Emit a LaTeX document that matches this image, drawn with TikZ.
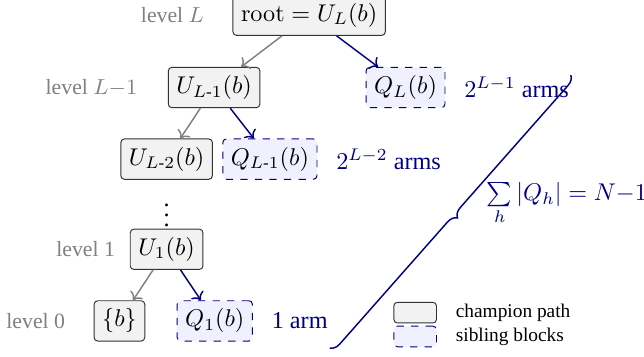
\documentclass[tikz,border=0pt]{standalone}
\usepackage{amsmath,amssymb}
\usepackage[no-math]{fontspec}
\setmainfont{Liberation Serif}
\usepackage{tikz}
\usetikzlibrary{arrows.meta,positioning,calc,decorations.pathreplacing}

\colorlet{navy}{blue!50!black}

\begin{document}
\begin{tikzpicture}[
    champ/.style={draw=black!80, fill=gray!10, rounded corners=1.5pt},
    sib/.style={draw=navy, dashed, fill=blue!6, rounded corners=1.5pt},
    champedge/.style={->, semithick, gray},
    sibedge/.style={->, semithick, navy},
    lvl/.style={font=\small, text=gray},
    cnt/.style={text=navy},
  ]
  \useasboundingbox (0,0) rectangle (9.354,5.171);

  % Champion path and sibling blocks
  \node[champ] (root) at (4.49,4.95) {$\mathrm{root} = U_L(b)$};
  \node[champ] (uL1) at (3.11,3.90) {$U_{L\text{-}1}(b)$};
  \node[sib] (qL) at (5.89,3.90) {$Q_L(b)$};
  \node[champ] (uL2) at (2.42,2.86) {$U_{L\text{-}2}(b)$};
  \node[sib] (qL1) at (3.92,2.86) {$Q_{L\text{-}1}(b)$};
  \node[inner sep=0pt] (vd) at (2.42,2.15) {$\vdots$};
  \node[champ] (u1) at (2.42,1.55) {$U_1(b)$};
  \node[champ] (leaf) at (1.735,0.51) {$\{b\}$};
  \node[sib] (q1) at (3.12,0.51) {$Q_1(b)$};

  % Levels
  \node[lvl, left=2.9mm of root] (lvlL) {level $L$};
  \node[lvl, left=3.2mm of uL1] (lvlL1) {level $L{-}1$};
  \node[lvl, left=0.9mm of u1] (lvl1) {level 1};
  \node[lvl, left=2.9mm of leaf] (lvl0) {level 0};

  % Arm counts
  \node[cnt, right=1.5mm of qL] (nL) {$2^{L-1}$ arms};
  \node[cnt, right=1.5mm of qL1] (nL1) {$2^{L-2}$ arms};
  \node[cnt, right=1.5mm of q1] (n1) {1 arm};

  % Edges
  \draw[champedge] (root) -- (uL1);
  \draw[sibedge] (root) -- (qL);
  \draw[champedge] (uL1) -- (uL2);
  \draw[sibedge] (uL1) -- (qL1);
  \draw[champedge] (u1) -- (leaf);
  \draw[sibedge] (u1) -- (q1);

  % Total
  \coordinate (btop) at (8.29,4.08);
  \coordinate (bbot) at (4.79,0.116);
  \draw[navy, semithick, decorate, decoration={brace, amplitude=4pt}] (btop) -- (bbot);
  \node[cnt, anchor=west, inner sep=1pt] (total) at (7.03,2.215) {$\sum\limits_h |Q_h| = N{-}1$};

  % Legend
  \node[champ, minimum width=0.62cm, minimum height=0.3cm] (keyc) at (6.03,0.63) {};
  \node[sib, minimum width=0.62cm, minimum height=0.3cm] (keys) at (6.03,0.284) {};
  \node[font=\footnotesize, right=1.5mm of keyc] (keyctext) {champion path};
  \node[font=\footnotesize, right=1.5mm of keys] (keystext) {sibling blocks};
\end{tikzpicture}
\end{document}
